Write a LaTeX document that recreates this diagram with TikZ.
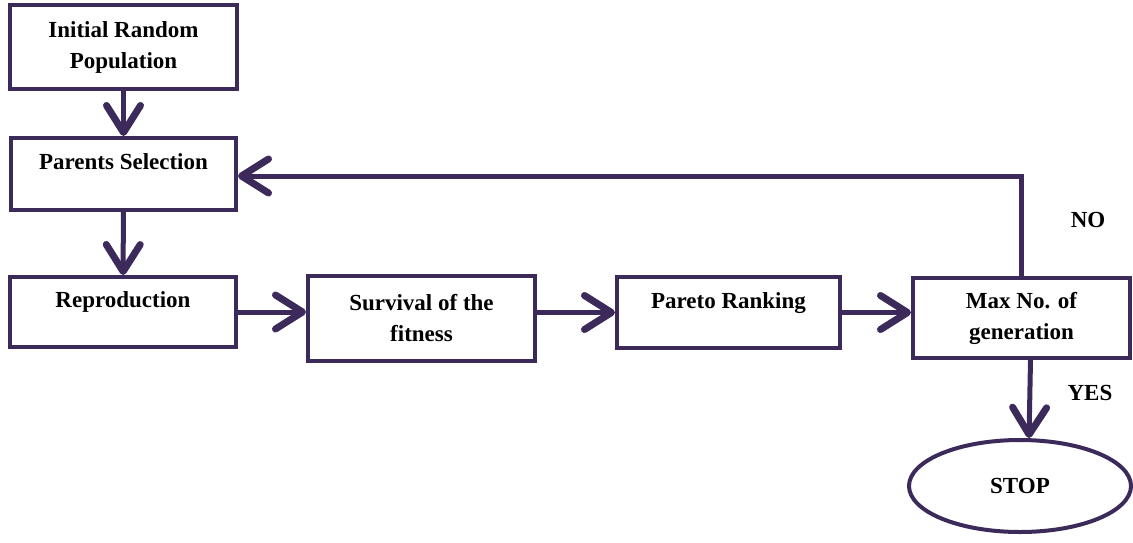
\documentclass[tikz,border=0pt]{standalone}
\usepackage{fontspec}
\setmainfont{Liberation Serif}
\usetikzlibrary{arrows.meta,shapes.geometric}
\definecolor{ink}{HTML}{3C2A5A}
\begin{document}
\begin{tikzpicture}[x=1pt,y=-1pt,
  every node/.style={font=\fontsize{23}{31}\selectfont\bfseries, text=black},
  stepbox/.style={draw=ink, line width=4pt, rectangle, inner sep=0pt, align=center},
  upper/.style={text height=16pt, text depth=25pt},
  arr/.style={draw=ink, line width=5pt, -{Straight Barb[length=27pt,width=34pt,line width=7pt,round]}}
]
\useasboundingbox (0,0) rectangle (1133,542);
\node[stepbox, minimum width=227pt, minimum height=84pt] (init) at (123.5,47) {Initial Random\\Population};
\node[stepbox, upper, minimum width=225pt, minimum height=72pt] (parents) at (123.5,174) {Parents Selection};
\node[stepbox, upper, minimum width=226pt, minimum height=70pt] (repro) at (123,312) {Reproduction};
\node[stepbox, minimum width=227pt, minimum height=85pt] (surv) at (421.5,318.5) {Survival of the\\fitness};
\node[stepbox, upper, minimum width=223pt, minimum height=71pt] (pareto) at (728.5,312.5) {Pareto Ranking};
\node[stepbox, minimum width=217pt, minimum height=80pt] (max) at (1021.5,318) {Max No. of\\generation};
\node[draw=ink, line width=4pt, ellipse, minimum width=222pt, minimum height=92pt, inner sep=0pt] (stop) at (1020,486) {STOP};
\node (no) at (1088,220) {NO};
\node (yes) at (1090,393) {YES};
\draw[arr] (init) -- (parents);
\draw[arr] (parents) -- (repro);
\draw[arr] (repro.east) -- (repro.east -| surv.west);
\draw[arr] (pareto.west -| surv.east) -- (pareto.west);
\draw[arr] (pareto.east) -- (pareto.east -| max.west);
\draw[arr] (max.north) |- ([yshift=-2pt]parents.east);
\draw[arr] ([xshift=9pt]max.south) -- ([xshift=9pt]stop.north);
\end{tikzpicture}
\end{document}
